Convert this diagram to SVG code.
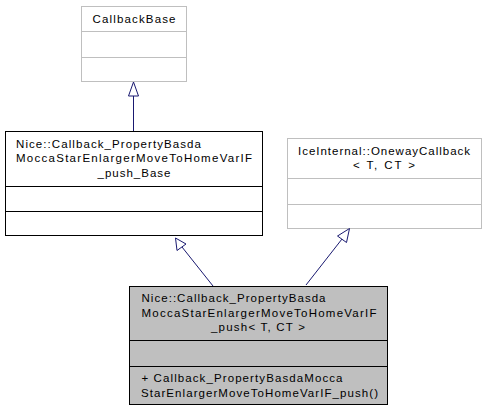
<svg xmlns="http://www.w3.org/2000/svg" width="487" height="412" viewBox="0 0 487 412">
<style>
.bg{fill:#ffffff}
.ext{fill:#ffffff;stroke:#bfbfbf;stroke-width:1}
.cls{fill:#ffffff;stroke:#000000;stroke-width:1}
.cur{fill:#bfbfbf;stroke:#000000;stroke-width:1}
.dext{stroke:#bfbfbf;stroke-width:1}
.dcls{stroke:#000000;stroke-width:1}
text{font-family:"Liberation Sans",Arial,Helvetica,sans-serif;font-size:11.5px;fill:#000000}
.c{text-anchor:middle}
.edge{fill:none;stroke:#191970;stroke-width:1}
.head{fill:#ffffff;stroke:#191970;stroke-width:1}
</style>
<rect class="bg" x="0" y="0" width="487" height="412"/>
<g id="node-callbackbase">
<rect class="ext" x="81.5" y="6.5" width="105" height="75"/>
<line class="dext" x1="81.5" y1="31.5" x2="186.5" y2="31.5"/>
<line class="dext" x1="81.5" y1="57.5" x2="186.5" y2="57.5"/>
<text class="c" x="134" y="22.5" textLength="83" lengthAdjust="spacing">CallbackBase</text>
</g>
<g id="node-base">
<rect class="cls" x="5.5" y="131.5" width="257" height="104"/>
<line class="dcls" x1="5.5" y1="186.5" x2="262.5" y2="186.5"/>
<line class="dcls" x1="5.5" y1="211.5" x2="262.5" y2="211.5"/>
<text x="16" y="147.5" textLength="185" lengthAdjust="spacing">Nice::Callback_PropertyBasda</text>
<text x="16" y="162" textLength="236" lengthAdjust="spacing">MoccaStarEnlargerMoveToHomeVarIF</text>
<text class="c" x="134" y="176.5" textLength="73" lengthAdjust="spacing">_push_Base</text>
</g>
<g id="node-oneway">
<rect class="ext" x="287.5" y="138.5" width="194" height="90"/>
<line class="dext" x1="287.5" y1="178.5" x2="481.5" y2="178.5"/>
<line class="dext" x1="287.5" y1="204.5" x2="481.5" y2="204.5"/>
<text class="c" x="384" y="155" textLength="172" lengthAdjust="spacing">IceInternal::OnewayCallback</text>
<text class="c" x="384" y="169" textLength="62" lengthAdjust="spacing">&lt; T, CT &gt;</text>
</g>
<g id="node-push">
<rect class="cur" x="129.5" y="286.5" width="258" height="118"/>
<line class="dcls" x1="129.5" y1="340.5" x2="387.5" y2="340.5"/>
<line class="dcls" x1="129.5" y1="366.5" x2="387.5" y2="366.5"/>
<text x="141.5" y="302" textLength="184" lengthAdjust="spacing">Nice::Callback_PropertyBasda</text>
<text x="141.5" y="316.5" textLength="235" lengthAdjust="spacing">MoccaStarEnlargerMoveToHomeVarIF</text>
<text class="c" x="258" y="331" textLength="94" lengthAdjust="spacing">_push&lt; T, CT &gt;</text>
<text x="141.5" y="382" textLength="201" lengthAdjust="spacing">+ Callback_PropertyBasdaMocca</text>
<text x="141" y="397" textLength="237" lengthAdjust="spacing">StarEnlargerMoveToHomeVarIF_push()</text>
</g>
<g id="connectors">
<line class="edge" x1="133.5" y1="131" x2="133.5" y2="96"/>
<polygon class="head" points="133.5,82 128.5,96 138.5,96"/>
<line class="edge" x1="213" y1="286" x2="182" y2="247"/>
<polygon class="head" points="175.5,238 177,250.5 186,244"/>
<line class="edge" x1="306" y1="285" x2="342" y2="239"/>
<polygon class="head" points="349.5,228.5 337.5,236 346.5,242.5"/>
</g>
</svg>
